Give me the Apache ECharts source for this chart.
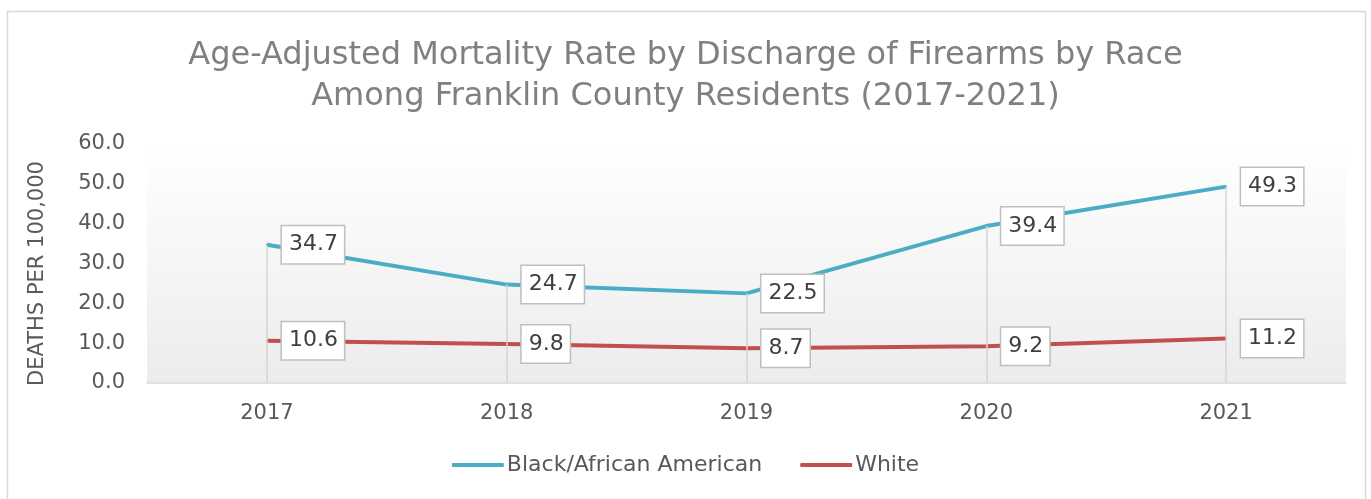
<!DOCTYPE html>
<html>
<head>
<meta charset="utf-8">
<script src="https://cdn.jsdelivr.net/npm/echarts@6/dist/echarts.min.js"></script>
<style>
  html, body { margin: 0; padding: 0; background: #fff; }
  #chart { width: 1371px; height: 499px; }
</style>
</head>
<body>
<div id="chart"></div>
<script>
// 数据
var years = ['2017', '2018', '2019', '2020', '2021'];
var blackRates = [34.7, 24.7, 22.5, 39.4, 49.3];
var whiteRates = [10.6, 9.8, 8.7, 9.2, 11.2];
var seriesNames = ['Black/African American', 'White'];

var FONT = 'DejaVu Sans';

var myChart = echarts.init(document.getElementById('chart'));

function calloutLabel() {
	return {
		show : true,
		position : 'right',
		distance : 14,
		formatter : function(p) {
			return p.value.toFixed(1);
		},
		fontFamily : FONT,
		fontSize : 22,
		color : '#404040',
		backgroundColor : '#fff',
		borderColor : '#bfbfbf',
		borderWidth : 1.5,
		padding : [ 8, 6, 7, 7 ]
	};
}

// 从数据点到横轴的竖线
var dropLines = years.map(function(y, i) {
	return [ {
		coord : [ y, blackRates[i] ]
	}, {
		coord : [ y, 0 ]
	} ];
});

var option = {
	backgroundColor : '#fff',
	animation : false,
	graphic : [ {
		type : 'rect',
		left : 5,
		top : 9,
		shape : {
			width : 1358,
			height : 500
		},
		style : {
			fill : 'none',
			stroke : '#d9d9d9',
			lineWidth : 1.5
		},
		silent : true,
		z : -1
	} ],
	title : {
		text : 'Age-Adjusted Mortality Rate by Discharge of Firearms by Race\nAmong Franklin County Residents (2017-2021)',
		left : 'center',
		top : 30,
		textStyle : {
			fontFamily : FONT,
			fontWeight : 'normal',
			fontSize : 32,
			lineHeight : 41,
			color : '#808080'
		}
	},
	legend : {
		bottom : 18,
		left : 'center',
		itemWidth : 52,
		itemHeight : 4,
		itemGap : 38,
		icon : 'roundRect',
		textStyle : {
			fontFamily : FONT,
			fontSize : 22,
			color : '#595959',
			padding : [ 0, 0, 0, -2 ]
		},
		data : seriesNames
	},
	grid : {
		left : 147,
		right : 25,
		top : 144,
		bottom : 116,
		show : true,
		borderWidth : 0,
		backgroundColor : {
			type : 'linear',
			x : 0,
			y : 0,
			x2 : 0,
			y2 : 1,
			colorStops : [ {
				offset : 0,
				color : '#ffffff'
			}, {
				offset : 1,
				color : '#ececec'
			} ]
		}
	},
	xAxis : {
		type : 'category',
		data : years,
		boundaryGap : true,
		axisTick : {
			show : false
		},
		axisLine : {
			lineStyle : {
				color : '#d9d9d9',
				width : 1.5
			}
		},
		axisLabel : {
			fontFamily : FONT,
			fontSize : 21,
			color : '#595959',
			margin : 20
		}
	},
	yAxis : {
		type : 'value',
		min : 0,
		max : 60,
		interval : 10,
		name : 'DEATHS PER 100,000',
		nameLocation : 'middle',
		nameGap : 99,
		nameRotate : 90,
		nameTextStyle : {
			fontFamily : FONT,
			fontSize : 21,
			color : '#595959',
			padding : [ 0, 20, 0, 0 ]
		},
		axisLine : {
			show : false
		},
		axisTick : {
			show : false
		},
		splitLine : {
			show : false
		},
		axisLabel : {
			fontFamily : FONT,
			fontSize : 21,
			color : '#595959',
			margin : 22,
			formatter : function(v) {
				return v.toFixed(1);
			}
		}
	},
	series : [ {
		name : seriesNames[0],
		type : 'line',
		data : blackRates,
		symbol : 'circle',
		symbolSize : 2,
		showSymbol : true,
		color : '#4bacc6',
		lineStyle : {
			width : 4,
			color : '#4bacc6'
		},
		label : calloutLabel(),
		markLine : {
			silent : true,
			symbol : [ 'none', 'none' ],
			label : {
				show : false
			},
			lineStyle : {
				type : 'solid',
				color : '#d4d4d4',
				width : 1.5
			},
			data : dropLines
		},
		z : 3
	}, {
		name : seriesNames[1],
		type : 'line',
		data : whiteRates,
		symbol : 'circle',
		symbolSize : 2,
		showSymbol : true,
		color : '#c0504d',
		lineStyle : {
			width : 4,
			color : '#c0504d'
		},
		label : calloutLabel(),
		z : 3
	} ]
};

myChart.setOption(option);
</script>
</body>
</html>
